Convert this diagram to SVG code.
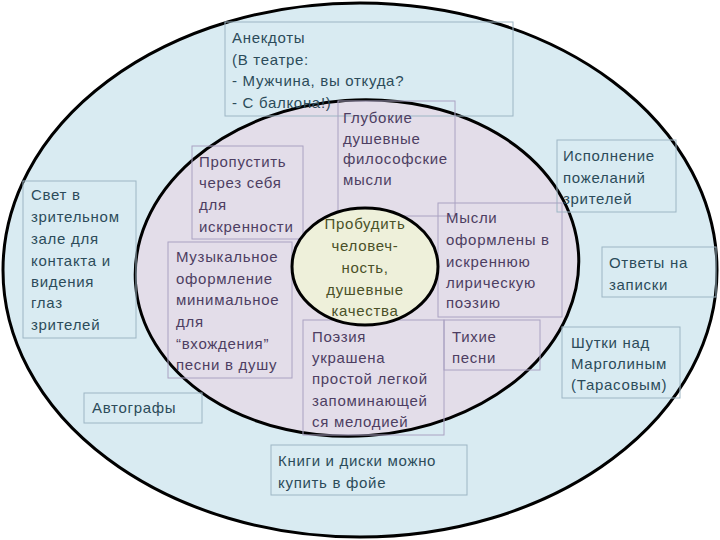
<svg xmlns="http://www.w3.org/2000/svg" width="720" height="540" viewBox="0 0 720 540">
<style>
.ring{stroke:#000;stroke-width:3}
.bo{fill:none;stroke:#9db6c4;stroke-width:1}
.bm{fill:none;stroke:#aaa2c2;stroke-width:1}
text{font-family:"Liberation Sans",Arial,sans-serif;font-size:15px;letter-spacing:0.7px}
.to{fill:#2c4b5a}
.tm{fill:#4d3e62}
.ti{fill:#4a5028;text-anchor:middle}
</style>
<rect width="720" height="540" fill="#ffffff"/>
<g id="rings">
<ellipse class="ring" cx="360" cy="270" rx="357" ry="267" fill="#d9ebf2"/>
<ellipse class="ring" cx="357" cy="268" rx="222" ry="168" fill="#e3dde9" transform="rotate(-4 357 268)"/>
</g>
<g id="connectors"></g>
<g id="n-anekdoty">
<rect class="bo" x="225" y="22" width="288" height="94"/>
<text class="to" x="232"><tspan x="232" y="43">Анекдоты</tspan><tspan x="232" y="64.5">(В театре:</tspan><tspan x="232" y="86">- Мужчина, вы откуда?</tspan><tspan x="232" y="107.5">- С балкона!)</tspan></text>
</g>
<g id="n-svet">
<rect class="bo" x="23" y="181" width="113" height="157"/>
<text class="to"><tspan x="31" y="200">Свет в</tspan><tspan x="31" y="222">зрительном</tspan><tspan x="31" y="244">зале для</tspan><tspan x="31" y="266">контакта и</tspan><tspan x="31" y="287">видения</tspan><tspan x="31" y="308">глаз</tspan><tspan x="31" y="330">зрителей</tspan></text>
</g>
<g id="n-avtografy">
<rect class="bo" x="84" y="393" width="118" height="30"/>
<text class="to" x="92" y="413">Автографы</text>
</g>
<g id="n-ispolnenie">
<rect class="bo" x="557" y="140" width="119" height="72"/>
<text class="to"><tspan x="563" y="161">Исполнение</tspan><tspan x="563" y="183">пожеланий</tspan><tspan x="563" y="204">зрителей</tspan></text>
</g>
<g id="n-otvety">
<rect class="bo" x="602" y="247" width="114" height="50"/>
<text class="to"><tspan x="609" y="268">Ответы на</tspan><tspan x="609" y="290">записки</tspan></text>
</g>
<g id="n-shutki">
<rect class="bo" x="562" y="327" width="118" height="71"/>
<text class="to"><tspan x="571" y="348">Шутки над</tspan><tspan x="571" y="369">Марголиным</tspan><tspan x="571" y="390">(Тарасовым)</tspan></text>
</g>
<g id="n-knigi">
<rect class="bo" x="271" y="445" width="196" height="50"/>
<text class="to"><tspan x="278" y="466">Книги и диски можно</tspan><tspan x="278" y="488">купить в фойе</tspan></text>
</g>
<g id="n-glubokie">
<rect class="bm" x="338" y="101" width="117" height="115"/>
<text class="tm"><tspan x="343" y="123">Глубокие</tspan><tspan x="343" y="144">душевные</tspan><tspan x="343" y="164">философские</tspan><tspan x="343" y="185">мысли</tspan></text>
</g>
<g id="n-propustit">
<rect class="bm" x="192" y="146" width="111" height="93"/>
<text class="tm"><tspan x="199" y="167">Пропустить</tspan><tspan x="199" y="188">через себя</tspan><tspan x="199" y="210">для</tspan><tspan x="199" y="232">искренности</tspan></text>
</g>
<g id="n-muzykalnoe">
<rect class="bm" x="168" y="242" width="124" height="136"/>
<text class="tm"><tspan x="176" y="262">Музыкальное</tspan><tspan x="176" y="284">оформление</tspan><tspan x="176" y="305">минимальное</tspan><tspan x="176" y="327">для</tspan><tspan x="176" y="349">“вхождения”</tspan><tspan x="176" y="370">песни в душу</tspan></text>
</g>
<g id="n-mysli">
<rect class="bm" x="438" y="203" width="124" height="114"/>
<text class="tm"><tspan x="446" y="223">Мысли</tspan><tspan x="446" y="245">оформлены в</tspan><tspan x="446" y="267">искреннюю</tspan><tspan x="446" y="288">лирическую</tspan><tspan x="446" y="308">поэзию</tspan></text>
</g>
<g id="n-poeziya">
<rect class="bm" x="303" y="320" width="141" height="115"/>
<text class="tm"><tspan x="312" y="342">Поэзия</tspan><tspan x="312" y="363">украшена</tspan><tspan x="312" y="384">простой легкой</tspan><tspan x="312" y="406">запоминающей</tspan><tspan x="312" y="427">ся мелодией</tspan></text>
</g>
<g id="n-tikhie">
<rect class="bm" x="444" y="320" width="96" height="50"/>
<text class="tm"><tspan x="452" y="342">Тихие</tspan><tspan x="452" y="363">песни</tspan></text>
</g>
<g id="n-probudit">
<ellipse class="ring" cx="365" cy="266.5" rx="73" ry="58.5" fill="#eef0da"/>
<text class="ti"><tspan x="365" y="229">Пробудить</tspan><tspan x="365" y="251">человеч-</tspan><tspan x="365" y="273">ность,</tspan><tspan x="365" y="295">душевные</tspan><tspan x="365" y="316">качества</tspan></text>
</g>
</svg>
